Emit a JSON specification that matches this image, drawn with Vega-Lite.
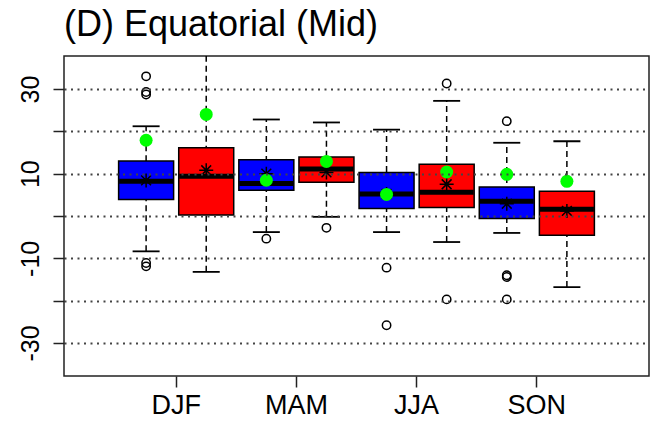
{
  "$schema": "https://vega.github.io/schema/vega-lite/v6.json",
  "width": 585,
  "height": 320,
  "autosize": "none",
  "padding": {"left": 64, "top": 56, "right": 10, "bottom": 49},
  "background": "white",
  "config": {"view": {"stroke": "#222222", "strokeWidth": 1.5}, "font": "Liberation Sans"},
  "title": {"text": "(D) Equatorial (Mid)", "anchor": "start", "frame": "group", "fontSize": 36, "fontWeight": "normal", "color": "#000000", "offset": 12},
  "datasets": {
    "boxes": [
      {"season": "DJF", "group": "obs", "lo": -8.35, "q1": 3.9, "med": 8.2, "q3": 13.0, "hi": 21.2, "mean": 8.4, "green": 17.9},
      {"season": "DJF", "group": "mod", "lo": -13.2, "q1": 0.25, "med": 9.4, "q3": 16.1, "hi": 40, "mean": 10.8, "green": 24.0},
      {"season": "MAM", "group": "obs", "lo": -3.8, "q1": 6.1, "med": 7.65, "q3": 13.3, "hi": 22.8, "mean": 10.0, "green": 8.45},
      {"season": "MAM", "group": "mod", "lo": -0.2, "q1": 7.97, "med": 11.1, "q3": 13.95, "hi": 22.1, "mean": 10.3, "green": 12.9},
      {"season": "JJA", "group": "obs", "lo": -3.8, "q1": 1.75, "med": 5.2, "q3": 10.25, "hi": 20.4, "mean": 5.2, "green": 5.1},
      {"season": "JJA", "group": "mod", "lo": -6.15, "q1": 2.0, "med": 5.6, "q3": 12.2, "hi": 27.2, "mean": 7.5, "green": 10.4},
      {"season": "SON", "group": "obs", "lo": -4.0, "q1": -0.6, "med": 3.5, "q3": 6.86, "hi": 17.3, "mean": 2.9, "green": 9.85},
      {"season": "SON", "group": "mod", "lo": -16.8, "q1": -4.56, "med": 1.58, "q3": 5.84, "hi": 17.66, "mean": 1.2, "green": 8.2}
    ],
    "outliers": [
      {"season": "DJF", "group": "obs", "value": 33.0},
      {"season": "DJF", "group": "obs", "value": 29.3},
      {"season": "DJF", "group": "obs", "value": 28.7},
      {"season": "DJF", "group": "obs", "value": -11.1},
      {"season": "DJF", "group": "obs", "value": -11.9},
      {"season": "MAM", "group": "obs", "value": -5.35},
      {"season": "MAM", "group": "mod", "value": -2.8},
      {"season": "JJA", "group": "obs", "value": -12.2},
      {"season": "JJA", "group": "obs", "value": -25.8},
      {"season": "JJA", "group": "mod", "value": 31.3},
      {"season": "JJA", "group": "mod", "value": -19.7},
      {"season": "SON", "group": "obs", "value": 22.4},
      {"season": "SON", "group": "obs", "value": -14.0},
      {"season": "SON", "group": "obs", "value": -14.4},
      {"season": "SON", "group": "obs", "value": -19.7}
    ]
  },
  "encoding": {
    "x": {
      "field": "season", "type": "nominal", "sort": ["DJF", "MAM", "JJA", "SON"],
      "scale": {"paddingInner": 0, "paddingOuter": 0.433},
      "axis": {"title": null, "labelAngle": 0, "labelFontSize": 27, "labelColor": "#000000", "labelPadding": 5, "tickSize": 11, "tickColor": "#222222", "tickWidth": 1.5, "domain": false}
    },
    "xOffset": {"field": "group", "type": "nominal", "sort": ["obs", "mod"], "scale": {"paddingInner": 0, "paddingOuter": 0}}
  },
  "layer": [
    {
      "data": {"name": "boxes"},
      "mark": {"type": "rule", "color": "#000000", "strokeWidth": 1.5, "strokeDash": [6, 4], "clip": true},
      "encoding": {
        "y": {"field": "lo", "type": "quantitative", "scale": {"domain": [-37.8, 37.8], "nice": false, "zero": false},
          "axis": {"title": null, "values": [-30, -20, -10, 0, 10, 20, 30], "labelExpr": "abs(datum.value) % 20 == 10 ? '' + datum.value : ''", "labelAngle": -90, "labelFontSize": 25, "labelColor": "#000000", "labelPadding": 10, "tickSize": 11, "tickColor": "#222222", "tickWidth": 1.5, "domain": false, "grid": true, "gridDash": [2, 4.5], "gridColor": "#444444", "gridWidth": 2, "zindex": 1}},
        "y2": {"field": "hi"}
      }
    },
    {
      "data": {"name": "boxes"},
      "mark": {"type": "tick", "orient": "horizontal", "color": "#000000", "size": 27, "thickness": 1.8, "opacity": 1, "clip": true},
      "encoding": {"y": {"field": "hi", "type": "quantitative"}}
    },
    {
      "data": {"name": "boxes"},
      "mark": {"type": "tick", "orient": "horizontal", "color": "#000000", "size": 27, "thickness": 1.8, "opacity": 1, "clip": true},
      "encoding": {"y": {"field": "lo", "type": "quantitative"}}
    },
    {
      "data": {"name": "boxes"},
      "mark": {"type": "bar", "width": 55, "stroke": "#000000", "strokeWidth": 1.5, "opacity": 1},
      "encoding": {
        "y": {"field": "q1", "type": "quantitative"},
        "y2": {"field": "q3"},
        "color": {"field": "group", "type": "nominal", "scale": {"domain": ["obs", "mod"], "range": ["#0000FF", "#FF0000"]}, "legend": null}
      }
    },
    {
      "data": {"name": "boxes"},
      "mark": {"type": "tick", "orient": "horizontal", "color": "#000000", "size": 54, "thickness": 5, "opacity": 1},
      "encoding": {"y": {"field": "med", "type": "quantitative"}}
    },
    {
      "data": {"name": "outliers"},
      "mark": {"type": "point", "shape": "circle", "filled": false, "stroke": "#000000", "strokeWidth": 1.5, "size": 70, "opacity": 1},
      "encoding": {"y": {"field": "value", "type": "quantitative"}}
    },
    {
      "data": {"name": "boxes"},
      "mark": {"type": "point", "shape": "M-1,0L1,0M0,-1L0,1M-0.7,-0.7L0.7,0.7M-0.7,0.7L0.7,-0.7", "filled": false, "stroke": "#000000", "strokeWidth": 1.5, "size": 196, "opacity": 1},
      "encoding": {"y": {"field": "mean", "type": "quantitative"}}
    },
    {
      "data": {"name": "boxes"},
      "mark": {"type": "point", "shape": "circle", "filled": true, "color": "#00FF00", "strokeWidth": 0, "size": 169, "opacity": 1},
      "encoding": {"y": {"field": "green", "type": "quantitative"}}
    }
  ]
}
